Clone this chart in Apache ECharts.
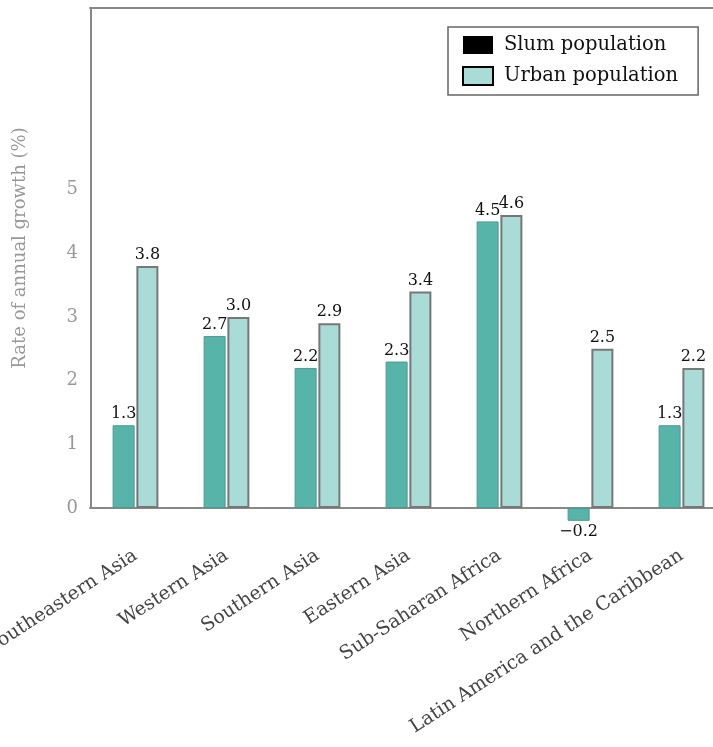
<!DOCTYPE html>
<html>
<head>
<meta charset="utf-8">
<script src="https://cdn.jsdelivr.net/npm/echarts@6/dist/echarts.min.js"></script>
<style>html,body{margin:0;padding:0;background:#fff}#c{width:713px;height:747px}</style>
</head>
<body>
<div id="c"></div>
<script>
var categories = ['Southeastern Asia','Western Asia','Southern Asia','Eastern Asia','Sub-Saharan Africa','Northern Africa','Latin America and the Caribbean'];
var slumValues = [1.3, 2.7, 2.2, 2.3, 4.5, -0.2, 1.3];
var urbanValues = [3.8, 3.0, 2.9, 3.4, 4.6, 2.5, 2.2];
var yTickLabels = ['0','1','2','3','4','5'];

var serif = 'DejaVu Serif';
var yMin = -0.25, yMax = 7.85;
var gridLeft = 90;
var chart = echarts.init(document.getElementById('c'));
function withLabel(arr){
  return arr.map(function(v){ return {value: v, label: {position: v < 0 ? 'bottom' : 'top'}}; });
}
var option = {
  backgroundColor: '#fff',
  animation: false,
  grid: {left: gridLeft, top: 8, width: 637, bottom: 223, containLabel: false, outerBoundsMode: 'none'},
  legend: {
    orient: 'vertical', left: 448, top: 27,
    padding: [8, 20, 9, 14],
    icon: 'rect',
    itemWidth: 30, itemHeight: 18, itemGap: 11,
    borderColor: '#666', borderWidth: 1.5, backgroundColor: '#fff',
    textStyle: {fontFamily: serif, fontSize: 19.5, color: '#111', padding: [0,0,0,6]},
    data: [
      {name: 'Slum population', itemStyle: {color: '#000', borderWidth: 0}},
      {name: 'Urban population', itemStyle: {color: '#a9dcd7', borderColor: '#000', borderWidth: 2}}
    ]
  },
  xAxis: [{
    type: 'category', data: categories,
    axisLine: {onZero: true, lineStyle: {color: '#888', width: 2}},
    axisTick: {show: false},
    axisLabel: {rotate: 33, interval: 0, margin: 30, fontFamily: serif, fontSize: 19, color: '#444'}
  }, {
    type: 'category', data: categories, position: 'top',
    axisLine: {show: true, onZero: false, lineStyle: {color: '#888', width: 2}},
    axisTick: {show: false}, axisLabel: {show: false}
  }],
  yAxis: {
    type: 'value', min: yMin, max: yMax, interval: 0.25,
    splitLine: {show: false},
    axisLine: {show: false},
    axisTick: {show: false},
    axisLabel: {
      showMinLabel: true, showMaxLabel: false,
      margin: 12, fontFamily: serif, fontSize: 18, color: '#999',
      formatter: function(v){ var i = yTickLabels.indexOf(String(v)); return i >= 0 ? yTickLabels[i] : ''; }
    }
  },
  series: [{
    name: 'Slum population', type: 'bar', barWidth: 22, barGap: '8%',
    data: withLabel(slumValues),
    itemStyle: {color: '#56b4a9', borderColor: '#4b9a91', borderWidth: 1},
    label: {show: true, distance: 3, fontFamily: serif, fontSize: 16, color: '#111',
      formatter: function(p){ return p.value.toFixed(1).replace('-', '\u2212'); }}
  }, {
    name: 'Urban population', type: 'bar', barWidth: 22,
    data: withLabel(urbanValues),
    itemStyle: {color: '#a9dcd7', borderColor: '#777', borderWidth: 2},
    label: {show: true, distance: 3, fontFamily: serif, fontSize: 16, color: '#111',
      formatter: function(p){ return p.value.toFixed(1); }}
  }]
};
chart.setOption(option);
var y0 = chart.convertToPixel({yAxisIndex: 0}, 0);
var yTop = chart.convertToPixel({yAxisIndex: 0}, yMax);
chart.setOption({
  graphic: [
    {type: 'line', shape: {x1: gridLeft + 1, y1: yTop - 1, x2: gridLeft + 1, y2: y0 + 1}, style: {stroke: '#888', lineWidth: 2}},
    {type: 'text', x: 20, y: 248, rotation: Math.PI / 2,
      style: {text: 'Rate of annual growth (%)', textAlign: 'center', textVerticalAlign: 'middle',
        fill: '#999', font: '18px "DejaVu Serif"'}}
  ]
});
</script>
</body>
</html>
